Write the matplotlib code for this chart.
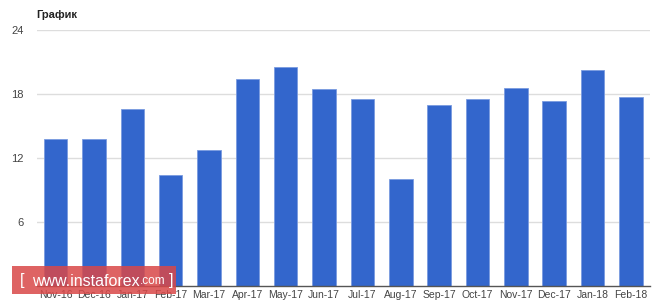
import numpy as np
import matplotlib.pyplot as plt
from matplotlib.patches import Rectangle

plt.rcParams['font.family'] = ['Liberation Sans', 'DejaVu Sans']

months = ['Nov-16', 'Dec-16', 'Jan-17', 'Feb-17', 'Mar-17', 'Apr-17', 'May-17', 'Jun-17',
          'Jul-17', 'Aug-17', 'Sep-17', 'Oct-17', 'Nov-17', 'Dec-17', 'Jan-18', 'Feb-18']
values = [13.8, 13.8, 16.6, 10.4, 12.8, 19.4, 20.5, 18.5,
          17.5, 10.0, 17.0, 17.5, 18.6, 17.35, 20.3, 17.75]
yticks = [6, 12, 18, 24]

fig = plt.figure(figsize=(6.64, 3.04), dpi=100)
ax = fig.add_axes([0.055, 0.059, 0.924, 0.842])

x = np.arange(len(months))
ax.bar(x, values, width=0.61, color='#3366cc', edgecolor='#7a9be0', linewidth=0.6, zorder=3)

ax.set_xlim(-0.5, len(months) - 0.5)
ax.set_ylim(0, 24)
ax.set_yticks(yticks)
ax.set_yticklabels([str(t) for t in yticks])
ax.set_xticks(x)
ax.set_xticklabels(months)
ax.tick_params(axis='both', length=0, labelsize=7.5, labelcolor='#444444')
ax.tick_params(axis='y', pad=9, labelsize=8)
ax.tick_params(axis='x', pad=3)

ax.grid(axis='y', color='#dddddd', linewidth=1, zorder=0)
for s in ['top', 'right', 'left']:
    ax.spines[s].set_visible(False)
ax.spines['bottom'].set_color('#555555')
ax.spines['bottom'].set_linewidth(1)
ax.spines['bottom'].set_zorder(4)

fig.text(36 / 664, 1 - 15 / 304, 'График', fontsize=8, fontweight='bold',
         color='#222222', va='center', ha='left')

# watermark
fig.patches.append(Rectangle((12 / 664, 1 - 294 / 304), 164 / 664, 28 / 304,
                             transform=fig.transFigure, facecolor='#d94848',
                             alpha=0.85, edgecolor='none', zorder=10))
t1 = fig.text(20 / 664, 1 - 281 / 304, '[', fontsize=12, color='white', va='center', zorder=11)
t2 = fig.text(32 / 664, 1 - 281 / 304, 'www.instaforex', fontsize=11.5, color='white',
              va='center', zorder=11)
t3 = fig.text(0, 0, '.com', fontsize=8.5, color='white', va='baseline', zorder=11)
t4 = fig.text(0, 0, ']', fontsize=12, color='white', va='center', zorder=11)

fig.canvas.draw()
r = fig.canvas.get_renderer()
b2 = t2.get_window_extent(r)
t3.set_position((b2.x1 / fig.bbox.width, (b2.y0 + 4) / fig.bbox.height))
b3 = t3.get_window_extent(r)
t4.set_position(((b3.x1 + 4) / fig.bbox.width, 1 - 281 / 304))

fig.savefig('out.png', dpi=100)
